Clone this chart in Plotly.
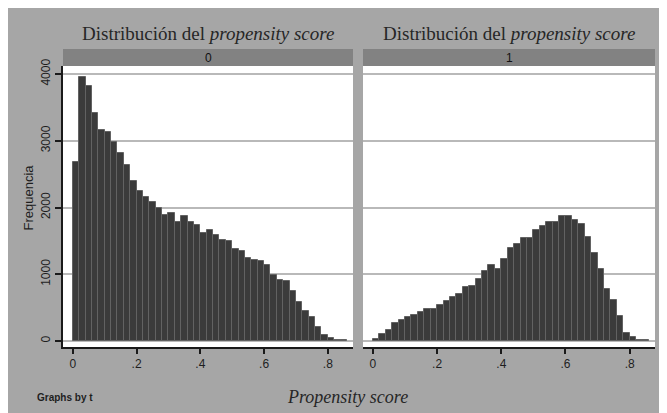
import plotly.graph_objects as go

# ---- data ----
groups = ["0", "1"]
bin_start = 0.0
bin_width = 0.02
freq_t0 = [2685, 3960, 3815, 3420, 3167, 3127, 2985, 2810, 2640, 2394,
           2243, 2163, 2078, 1992, 1890, 1912, 1777, 1870, 1790, 1742,
           1611, 1660, 1583, 1520, 1498, 1375, 1352, 1247, 1212, 1192,
           1145, 994, 916, 896, 746, 581, 455, 355, 205, 85,
           42, 20, 20]
freq_t1 = [37, 112, 160, 263, 311, 366, 394, 429, 474, 472,
           537, 602, 660, 705, 803, 828, 928, 1054, 1145, 1077,
           1224, 1390, 1460, 1541, 1541, 1666, 1729, 1789, 1789, 1870,
           1872, 1817, 1749, 1556, 1315, 1079, 783, 620, 372, 121,
           62, 17, 15]
x_tickvals = [0, 0.2, 0.4, 0.6, 0.8]
x_ticktext = ["0", ".2", ".4", ".6", ".8"]
y_tickvals = [0, 1000, 2000, 3000, 4000]
y_ticktext = ["0", "1000", "2000", "3000", "4000"]
panel_title = "Distribución del <i>propensity score</i>"
x_title = "<i>Propensity score</i>"
y_title = "Frequencia"
note = "Graphs by t"

# ---- geometry / style ----
# the page body keeps its default 8px margin, which gives the white border
OFF = 8
W, H = 667 - OFF, 413 - OFF
ML, MR, MT, MB = 63 - OFF, 12, 66 - OFF, 66
PW, PH = W - ML - MR, H - MT - MB


def px(x):  # page pixel -> paper
    return (x - OFF - ML) / PW


def py(y):  # page pixel -> paper
    return (H - MB - (y - OFF)) / PH


BG = "#a6a6a6"
STRIP = "#828282"
BAR = "#3b3b3b"
BAR_EDGE = "#626262"
GRID = "#b9b9b9"
TXT = "#1e1e1e"
SANS = "Liberation Sans, Arial"
SERIF = "Liberation Serif, Times New Roman, serif"

fig = go.Figure()
for i, vals in enumerate([freq_t0, freq_t1]):
    suffix = "" if i == 0 else "2"
    fig.add_trace(go.Bar(
        x0=bin_start + bin_width / 2, dx=bin_width, y=vals, width=bin_width,
        marker=dict(color=BAR, line=dict(color=BAR_EDGE, width=1)),
        xaxis="x" + suffix, yaxis="y" + suffix, showlegend=False,
        hoverinfo="x+y"))

left_dom = [0, px(353)]
right_dom = [px(363), 1]
yrange = [-90, 4120]
xrange_ = [-0.031, 0.879]

common_x = dict(range=xrange_, tickvals=x_tickvals, ticktext=x_ticktext,
                showgrid=False, zeroline=False, showline=True,
                linecolor="#1a1a1a", linewidth=2, ticks="outside",
                ticklen=5, tickwidth=1.5, tickcolor="#1a1a1a",
                tickfont=dict(family=SANS, size=12, color=TXT))
fig.update_layout(
    width=W, height=H,
    margin=dict(l=ML, r=MR, t=MT, b=MB, pad=0),
    paper_bgcolor=BG, plot_bgcolor="white",
    bargap=0,
    font=dict(family=SANS, color=TXT),
    xaxis=dict(domain=left_dom, anchor="y", **common_x),
    xaxis2=dict(domain=right_dom, anchor="y2", **common_x),
    yaxis=dict(range=yrange, tickvals=y_tickvals, ticktext=y_ticktext,
               tickangle=-90, showgrid=True, gridcolor=GRID, gridwidth=1.5,
               zeroline=False, showline=True, linecolor="#1a1a1a",
               linewidth=1.5, ticks="outside", ticklen=6, tickwidth=1.5,
               tickcolor="#1a1a1a",
               tickfont=dict(family=SANS, size=12, color=TXT),
               anchor="x"),
    yaxis2=dict(range=yrange, tickvals=y_tickvals, showticklabels=False,
                showgrid=True, gridcolor=GRID, gridwidth=1.5,
                zeroline=False, showline=False, ticks="", anchor="x2"),
)

shapes = []
for dom in (left_dom, right_dom):
    shapes.append(dict(type="rect", xref="paper", yref="paper",
                       x0=dom[0], x1=dom[1], y0=1.0, y1=py(49),
                       fillcolor=STRIP, line=dict(width=0)))
fig.update_layout(shapes=shapes)

ann = []
centers = [px(208), px(509)]
for c, g in zip(centers, groups):
    ann.append(dict(text=panel_title, x=c, y=py(33), xref="paper",
                    yref="paper", showarrow=False, xanchor="center",
                    yanchor="middle",
                    font=dict(family=SERIF, size=19, color="#262626")))
    ann.append(dict(text=g, x=c, y=py(57.5), xref="paper", yref="paper",
                    showarrow=False, xanchor="center", yanchor="middle",
                    font=dict(family=SANS, size=12, color="#111111")))
ann.append(dict(text=y_title, x=px(27.5), y=py(198), xref="paper",
                yref="paper", showarrow=False, textangle=-90,
                xanchor="center", yanchor="middle",
                font=dict(family=SANS, size=13, color=TXT)))
ann.append(dict(text=x_title, x=px(347), y=py(397), xref="paper",
                yref="paper", showarrow=False, xanchor="center",
                yanchor="middle",
                font=dict(family=SERIF, size=18, color="#262626")))
ann.append(dict(text="<b>" + note + "</b>", x=px(35), y=py(397.5),
                xref="paper", yref="paper", showarrow=False,
                xanchor="left", yanchor="middle",
                font=dict(family=SANS, size=10, color=TXT)))
fig.update_layout(annotations=ann)

fig.write_html("out.html")
